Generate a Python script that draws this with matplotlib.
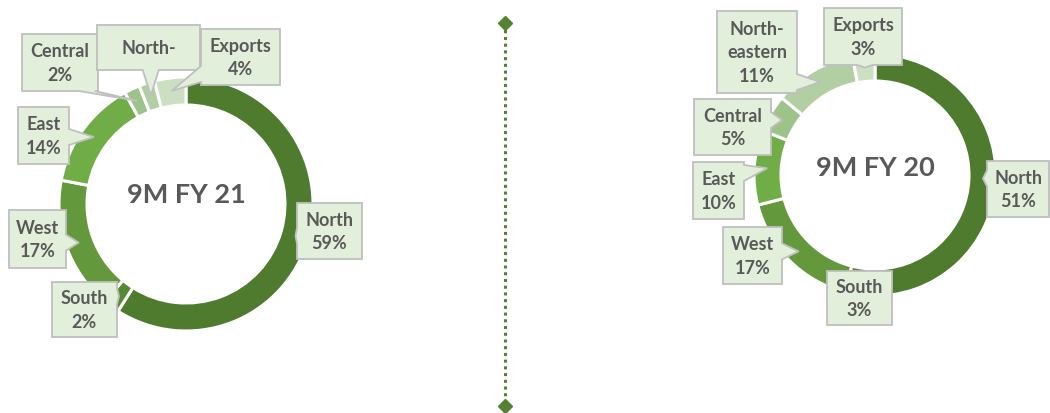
"""Regional sales split, 9M FY21 vs 9M FY20, as two donut charts."""

import matplotlib.pyplot as plt
import numpy as np
from matplotlib.patches import Polygon

W, H = 1050, 413

regions = ["North", "South", "West", "East", "Central", "North-eastern", "Exports"]
share_fy21 = [59, 2, 17, 14, 2, 2, 4]
share_fy20 = [51, 3, 17, 10, 5, 11, 3]
label_names = {"North-eastern": "North-\neastern"}

colors = ["#4E7B2E", "#568A32", "#63993C", "#70AD47", "#9DC38A", "#B2CFA3", "#CBDFC1"]
TEXT = "#595959"
BOX_FILL = "#E2EFDA"
BOX_EDGE = "#BFBFBF"
FONT = ["Lato", "DejaVu Sans"]

# box layout in pixels from top-left: x0, y0, x1, y1, side the pointer leaves from
left_boxes = {
    "North": (297, 203, 362, 259, "left"),
    "South": (52, 282, 117, 337, "right"),
    "West": (9, 210, 66, 268, "right"),
    "East": (18, 107, 69, 164, "right"),
    "Central": (22, 34, 98, 91, "bottom"),
    "North-eastern": (97, 25, 200, 70, "bottom"),
    "Exports": (201, 29, 280, 85, "left"),
}
right_boxes = {
    "North": (987, 161, 1049, 217, "left"),
    "South": (827, 271, 892, 325, "top"),
    "West": (723, 227, 782, 284, "right"),
    "East": (693, 162, 744, 219, "right"),
    "Central": (694, 99, 771, 155, "right"),
    "North-eastern": (717, 11, 797, 93, "right"),
    "Exports": (824, 8, 902, 65, "bottom"),
}
# left chart's north-eastern label is cut off in the source, only "North-" shows
text_override = {("left", "North-eastern"): ("North-", 48)}


def callout(ax, box, tip):
    x0, y0, x1, y1, side = box
    tx, ty = tip
    hw = 8
    pts = [(x0, y0), (x1, y0), (x1, y1), (x0, y1)]
    inside = x0 < tx < x1 and y0 < ty < y1
    if not inside:
        if side in ("top", "bottom"):
            c = np.clip(tx, x0 + hw + 3, x1 - hw - 3)
            if side == "top":
                pts = [(x0, y0), (c - hw, y0), (tx, ty), (c + hw, y0), (x1, y0), (x1, y1), (x0, y1)]
            else:
                pts = [(x0, y0), (x1, y0), (x1, y1), (c + hw, y1), (tx, ty), (c - hw, y1), (x0, y1)]
        else:
            c = np.clip(ty, y0 + hw + 3, y1 - hw - 3)
            if side == "right":
                pts = [(x0, y0), (x1, y0), (x1, c - hw), (tx, ty), (x1, c + hw), (x1, y1), (x0, y1)]
            else:
                pts = [(x0, y0), (x1, y0), (x1, y1), (x0, y1), (x0, c + hw), (tx, ty), (x0, c - hw)]
    poly = Polygon([(x, H - y) for x, y in pts], closed=True, facecolor=BOX_FILL,
                   edgecolor=BOX_EDGE, linewidth=1.3, zorder=5)
    ax.add_patch(poly)
    return poly


def donut(ax, values, center, radius, width, boxes, title, key):
    cx, cy = center
    ax.pie(values, colors=colors, startangle=90, counterclock=False, radius=radius,
           center=(cx, H - cy), frame=True,
           wedgeprops=dict(width=width, edgecolor="white", linewidth=2.2))
    total = sum(values)
    cum = 0
    for name, v in zip(regions, values):
        mid = np.deg2rad(360 * (cum + v / 2) / total)
        cum += v
        r_tip = radius - 13
        tip = (cx + r_tip * np.sin(mid), cy - r_tip * np.cos(mid))
        box = boxes[name]
        callout(ax, box, tip)
        x0, y0, x1, y1, _ = box
        label = f"{label_names.get(name, name)}\n{v}%"
        ty = (y0 + y1) / 2 + 1
        if (key, name) in text_override:
            label, ty = text_override[(key, name)]
        ax.text((x0 + x1) / 2, H - ty, label, ha="center", va="center",
                fontsize=13, fontweight="bold", color=TEXT, family=FONT,
                linespacing=1.45, zorder=6)
    ax.text(cx, H - (cy - 9 if key == "left" else cy - 7), title, ha="center", va="center",
            fontsize=19.5, fontweight="bold", color=TEXT, family=FONT, zorder=6)


fig = plt.figure(figsize=(W / 100, H / 100), dpi=100)
ax = fig.add_axes([0, 0, 1, 1])

donut(ax, share_fy21, (186, 204), 127, 28, left_boxes, "9M FY 21", "left")
donut(ax, share_fy20, (875, 175), 121, 27, right_boxes, "9M FY 20", "right")

# dotted divider with diamond ends
ax.plot([505, 505], [H - 23, H - 406], color="#548235", linestyle=(0, (1, 1.2)),
        linewidth=2.2, zorder=3)
ax.plot([505, 505], [H - 23, H - 406], linestyle="none", marker="D", markersize=7,
        color="#548235", zorder=4)

ax.set_xlim(0, W)
ax.set_ylim(0, H)
ax.set_aspect("auto")
ax.axis("off")

fig.savefig("out.png", dpi=100, facecolor="white")
